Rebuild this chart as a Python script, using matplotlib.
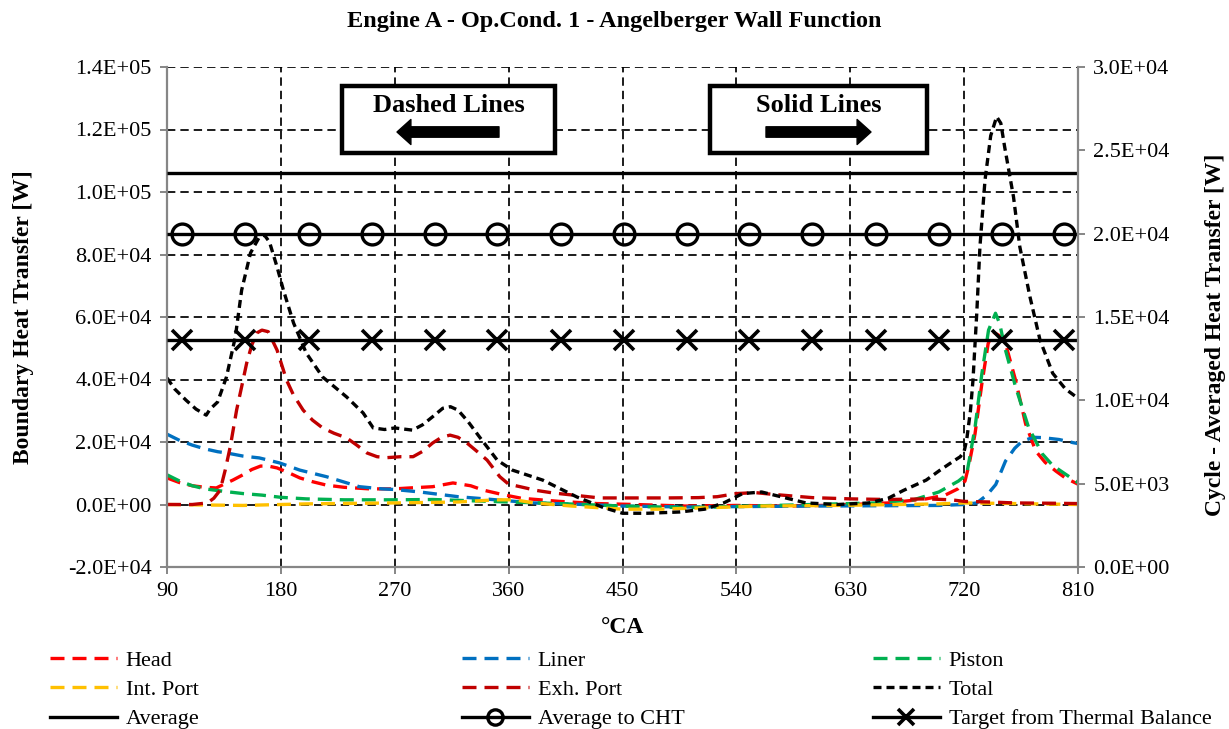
import matplotlib
matplotlib.use('Agg')
import matplotlib.pyplot as plt
from matplotlib.patches import Rectangle, FancyArrowPatch
from matplotlib.lines import Line2D
from matplotlib.ticker import FuncFormatter, MultipleLocator

plt.rcParams['font.family'] = ['Liberation Serif', 'DejaVu Serif']

# ---- data (crank angle [deg], heat transfer [kW]) ----
total_ca = [90, 96, 105, 113, 121, 124, 130, 137, 144, 149, 156, 163, 167, 171, 177, 182, 190,
            200, 213, 232, 245, 253, 262, 270, 284, 292, 300, 308, 314, 320, 328, 337, 351, 363,
            387, 414, 435, 450, 470, 495, 515, 530, 545, 560, 575, 595, 620, 645, 660, 672, 690,
            701, 712, 717, 720, 722, 725, 727, 730, 732.5, 736.5, 741, 745.7, 749, 752, 759, 764,
            772, 780, 790, 800, 810]
total_kw = [40.5, 37, 33.4, 30.5, 28.6, 30.5, 32.8, 40.8, 53.6, 68.6, 80.5, 85.6, 86.2, 84, 76,
            68.6, 58.1, 48.5, 40.8, 34.4, 29.3, 24.5, 24.0, 24.5, 23.8, 25.5, 28.1, 30.8, 31.3,
            30.2, 26.5, 21.6, 14.2, 11.0, 7.8, 2.4, -1.0, -2.8, -2.8, -2.4, -1.5, 0.5, 3.5, 4.0,
            2.5, 0.5, 0.0, 0.5, 2.0, 4.5, 7.8, 11.0, 14, 15.3, 17, 20.6, 30, 39.8, 61.3, 82.5,
            103.8, 118, 124.1, 122, 114.5, 98.5, 82.5, 66.5, 52.6, 42, 37, 34]

head_ca = [90, 100, 110, 120, 129, 135, 142, 150, 157, 164, 170, 177, 186, 195, 205, 216, 230,
           250, 270, 282, 300, 316, 330, 340, 355, 370, 400, 430, 460, 500, 540, 580, 620, 660,
           690, 705, 715, 720.7, 724, 728.6, 734, 739, 743, 748, 752.7, 760.7, 768.6, 776.6,
           784, 792.5, 800, 810]
head_kw = [8.5, 7, 6.0, 5.5, 5.3, 6.5, 7.8, 9.5, 11.2, 12.3, 12.3, 11.7, 10.2, 8.5, 7.3, 6.2,
           5.5, 5.0, 5.0, 5.3, 5.7, 6.9, 6.0, 4.6, 3.2, 2.0, 1.0, 0.3, 0.0, -0.5, -0.3, -0.5,
           -0.2, 0.5, 1.8, 3.0, 5.0, 7.5, 13, 22.6, 38.6, 51.5, 55.2, 54, 51.5, 39.7, 25.8, 17.1,
           13.5, 10.7, 8.5, 6.5]

liner_ca = [90, 100, 110, 120, 130, 137, 150, 163, 179, 195, 216, 242, 260, 270, 290, 320, 350,
            380, 420, 450, 500, 600, 700, 720, 730, 738, 745, 752.7, 760, 766, 775, 782, 795,
            806, 810]
liner_kw = [22.5, 20.5, 19, 17.8, 16.9, 16.5, 15.5, 14.9, 13.3, 11.0, 8.9, 5.7, 5.0, 4.8, 4.0,
            2.5, 1.5, 0.5, 0.0, -0.5, -0.8, -0.5, -0.3, 0.0, 0.5, 3.0, 6.4, 13.9, 18, 20.3,
            21.5, 21.4, 20.8, 19.8, 19.5]

piston_ca = [90, 100, 110, 120, 135, 150, 165, 180, 200, 230, 270, 300, 330, 360, 400, 450, 500,
             550, 600, 650, 680, 700, 715.5, 722, 728.6, 734, 739.3, 744.8, 748, 752.7, 760.7,
             771, 781.8, 790, 800.5, 810]
piston_kw = [9.5, 7.5, 6.0, 5.0, 4.2, 3.5, 3.0, 2.3, 1.8, 1.5, 1.5, 1.6, 1.2, 0.8, 0.3, -0.5,
             -1.0, -0.5, 0.0, 0.5, 1.5, 4.0, 7.5, 9.6, 24.6, 41.8, 55.8, 61.2, 58, 49.4, 37.6,
             24.6, 16.2, 12.5, 9.6, 7.0]

intport_ca = [90, 150, 200, 270, 320, 350, 365, 380, 410, 450, 480, 520, 560, 620, 700, 720,
              760, 810]
intport_kw = [0.0, -0.3, 0.2, 0.5, 0.8, 1.5, 1.5, 0.5, -0.5, -1.5, -1.5, -1.0, -0.5, -0.3, 0.2,
              0.5, 0.3, 0.0]

exh_ca = [90, 110, 122, 127, 132, 136, 140, 145, 149, 153, 157, 161, 165, 170, 177, 184.5, 190,
          197.6, 205, 213, 222, 232, 240, 248, 256, 264, 275, 284.5, 292, 300, 307, 313.7, 320,
          327, 335, 343, 353, 360, 369, 382, 395, 432, 458, 485, 510, 525, 540, 555, 570, 600,
          630, 660, 690, 710, 720, 740, 760, 790, 810]
exh_kw = [0.0, 0.0, 0.5, 2.0, 4.6, 11, 18.5, 30.2, 37.7, 45.3, 51, 54.9, 55.8, 55.3, 49.4, 39.8,
          35, 30.2, 27, 24.5, 22.8, 21.3, 19, 16.5, 15.3, 15.0, 15.3, 15.3, 17, 19.7, 21.5, 22.2,
          21.5, 19.7, 17, 14.2, 8.9, 6.5, 5.7, 4.5, 3.7, 2.1, 2.1, 2.1, 2.2, 2.5, 3.5, 3.8, 3.2,
          2.2, 1.8, 1.6, 1.8, 1.5, 1.0, 0.8, 0.5, 0.4, 0.3]

# cycle-averaged values [W] (right axis)
average_w = 23650
average_cht_w = 20000
target_w = 13600
marker_ca = [102, 152, 202, 252, 302, 351, 401, 451, 501, 550, 600, 650, 700, 750, 799]

W, H = 1229, 729


def fx(x):
    return x / W


def fy(y):
    return 1 - y / H


fig = plt.figure(figsize=(W / 100, H / 100), dpi=100)
ax = fig.add_axes([fx(167), fy(567), (1078 - 167) / W, 500 / H])
ax2 = ax.twinx()

dash_c = (0, (4.2, 2.4))
dash_t = (0, (2.4, 1.5))
lw = 2.4

series = [
    (head_ca, head_kw, '#FF0000', dash_c, 'Head'),
    (liner_ca, liner_kw, '#0070C0', dash_c, 'Liner'),
    (piston_ca, piston_kw, '#00B050', dash_c, 'Piston'),
    (intport_ca, intport_kw, '#FFC000', dash_c, 'Int. Port'),
    (exh_ca, exh_kw, '#C00000', dash_c, 'Exh. Port'),
    (total_ca, total_kw, 'black', dash_t, 'Total'),
]
handles = {}
for xs, ys, col, ls, name in series:
    h, = ax.plot(xs, [v * 1000 for v in ys], color=col, linestyle=ls, linewidth=lw, label=name)
    handles[name] = h

ax.set_xlim(90, 810)
ax.set_ylim(-20000, 140000)
ax2.set_ylim(0, 30000)
ax.xaxis.set_major_locator(MultipleLocator(90))
ax.yaxis.set_major_locator(MultipleLocator(20000))
ax2.yaxis.set_major_locator(MultipleLocator(5000))

# solid lines (right axis)
x0, x1 = ax.get_xlim()
ax2.plot([x0, x1], [average_w] * 2, color='black', linewidth=lw, solid_capstyle='butt')
ax2.plot([x0, x1], [average_cht_w] * 2, color='black', linewidth=lw, solid_capstyle='butt')
ax2.plot(marker_ca, [average_cht_w] * len(marker_ca), linestyle='none', marker='o', ms=15,
         mfc='none', mec='black', mew=2.4)
ax2.plot([x0, x1], [target_w] * 2, color='black', linewidth=lw, solid_capstyle='butt')
ax2.plot(marker_ca, [target_w] * len(marker_ca), linestyle='none', marker='x', ms=14,
         mec='black', mew=2.6)

handles['Average'] = Line2D([], [], color='black', linewidth=lw)
handles['Average to CHT'] = Line2D([], [], color='black', linewidth=lw, marker='o', ms=11,
                                   mfc='none', mec='black', mew=2.4)
handles['Target from Thermal Balance'] = Line2D([], [], color='black', linewidth=lw, marker='x',
                                                ms=11, mec='black', mew=2.6)

# grid & spines
ax.set_axisbelow(True)
ax.grid(True, color='black', linestyle=(0, (4.8, 2.9)), linewidth=1.25)
spine_c = '#868686'
for s in ['top', 'right']:
    ax.spines[s].set_visible(False)
for s in ['top', 'left', 'bottom']:
    ax2.spines[s].set_visible(False)
for sp in [ax.spines['left'], ax.spines['bottom'], ax2.spines['right']]:
    sp.set_color(spine_c)
    sp.set_linewidth(1.6)

fmt = FuncFormatter(lambda v, p: f"{v:.1E}")
ax.yaxis.set_major_formatter(fmt)
ax2.yaxis.set_major_formatter(fmt)
ax.tick_params(axis='both', direction='out', length=5, width=1.4, color=spine_c,
               labelsize=16, pad=6)
ax2.tick_params(axis='y', direction='out', length=5, width=1.4, color=spine_c,
                labelsize=16, pad=6)

ax.set_xlabel('°CA', fontsize=17, fontweight='bold', labelpad=11)
fig.text(fx(24), fy(317), 'Boundary Heat Transfer [W]', rotation=90, fontsize=17,
         fontweight='bold', ha='center', va='center')
fig.text(fx(1215), fy(335), 'Cycle - Averaged Heat Transfer [W]', rotation=90, fontsize=17,
         fontweight='bold', ha='center', va='center')
fig.text(0.5, fy(22), 'Engine A - Op.Cond. 1 - Angelberger Wall Function', fontsize=17.5,
         fontweight='bold', ha='center', va='center')

# annotation boxes
boxes = [(342, 555, 'Dashed Lines', 499, 397), (710, 927, 'Solid Lines', 766, 871)]
for bx0, bx1, txt, a0, a1 in boxes:
    fig.patches.append(Rectangle((fx(bx0), fy(153)), (bx1 - bx0) / W, (153 - 86) / H,
                                 transform=fig.transFigure, facecolor='white',
                                 edgecolor='black', linewidth=3.2, zorder=5))
    fig.text(fx((bx0 + bx1) / 2), fy(106), txt, fontsize=19, fontweight='bold',
             ha='center', va='center', zorder=6)
    fig.patches.append(FancyArrowPatch((fx(a0), fy(132)), (fx(a1), fy(132)),
                                       transform=fig.transFigure,
                                       arrowstyle='simple,head_length=10,head_width=18,tail_width=7.5',
                                       mutation_scale=1, color='black', shrinkA=0, shrinkB=0,
                                       zorder=6))

# legend in three columns
cols = [
    (50, ['Head', 'Int. Port', 'Average']),
    (462, ['Liner', 'Exh. Port', 'Average to CHT']),
    (873, ['Piston', 'Total', 'Target from Thermal Balance']),
]
for lx, names in cols:
    fig.legend([handles[n] for n in names], names, loc='upper left',
               bbox_to_anchor=(fx(lx), fy(650)), frameon=False, fontsize=16,
               handlelength=3.0, handletextpad=0.4, labelspacing=0.4,
               borderpad=0, borderaxespad=0)

fig.savefig('out.png', dpi=100)
